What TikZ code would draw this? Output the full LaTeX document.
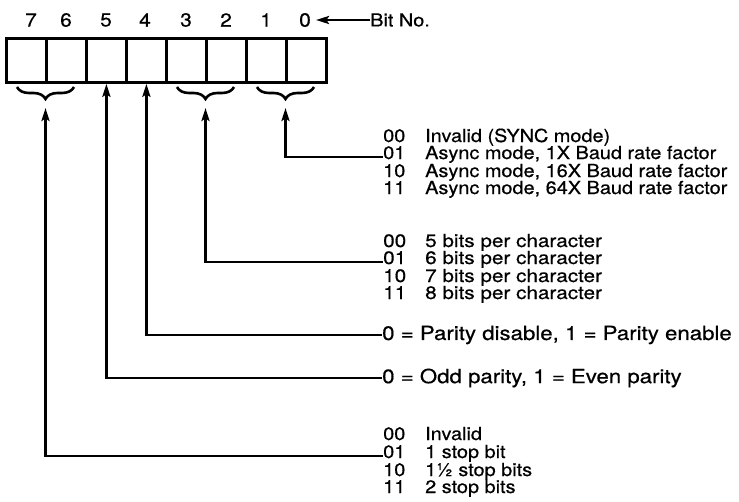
\documentclass[tikz,border=0pt]{standalone}
\usepackage{fontspec}
\setmainfont{TeX Gyre Heros}[FakeBold=0.5]
\usetikzlibrary{arrows.meta,decorations.pathreplacing,calc}
\tikzset{
  cell/.style={draw,line width=2.8pt,minimum width=40pt,minimum height=44pt,inner sep=0pt,anchor=north west},
  bitnum/.style={font=\fontsize{19pt}{19pt}\selectfont,inner sep=0pt},
  txt/.style={font=\fontsize{18pt}{18pt}\selectfont,inner sep=0pt,anchor=base west},
  ptxt/.style={txt,font=\fontsize{19.5pt}{19.5pt}\selectfont,anchor=west},
  arr/.style={line width=2.6pt,-{Stealth[length=13pt,width=8pt,inset=2.5pt]}},
  brc/.style={line width=2.6pt,decorate,decoration={brace,mirror,amplitude=12pt,aspect=0.5}}
}
\newcommand{\sx}[1]{\scalebox{1.105}[1]{#1}}
\newcommand{\sxb}[1]{\scalebox{1.15}[1]{#1}}
\newcommand{\sxp}[1]{\scalebox{1.14}[1]{#1}}
\begin{document}
\begin{tikzpicture}[x=1pt,y=-1pt]
\useasboundingbox (0,0) rectangle (739,501);
% register cells
\foreach \i/\xx [count=\k from 0] in {7/31,6/66,5/106,4/145,3/186,2/226,1/266,0/305}{
  \node[cell] (b\i) at ({5+40*\k},37) {};
  \node[bitnum] (n\i) at (\xx,20) {\scalebox{1.1}[1]{\i}};
}
\node[txt,anchor=west] (bitno) at (370,20) {\sx{Bit No.}};
\draw[arr] (bitno.west) -- ([xshift=5pt]n0.east);
% braces
\draw[brc] (17,87) -- coordinate[pos=0.5] (m76) (74,87);
\draw[brc] (177,87) -- coordinate[pos=0.5] (m32) (234,87);
\draw[brc] (257,87) -- coordinate[pos=0.5] (m10) (314,87);
\coordinate (t76) at ($(m76)+(0,21)$);
\coordinate (t32) at ($(m32)+(0,21)$);
\coordinate (t10) at ($(m10)+(0,21)$);
% text: bits 1-0
\node[txt] (a0) at (383,142) {\sx{00}};
\node[txt] (a1) at (383,159) {\sx{01}};
\node[txt] (a2) at (383,177) {\sx{10}};
\node[txt] (a3) at (383,194) {\sx{11}};
\node[txt] (ad0) at (425,142) {\sx{Invalid (SYNC mode)}};
\node[txt] (ad1) at (425,159) {\sx{Async mode, 1X Baud rate factor}};
\node[txt] (ad2) at (425,177) {\sx{Async mode, 16X Baud rate factor}};
\node[txt] (ad3) at (425,194) {\sx{Async mode, 64X Baud rate factor}};
% bits 3-2
\node[txt] (c0) at (383,247) {\sxb{00}};
\node[txt] (c1) at (383,264) {\sxb{01}};
\node[txt] (c2) at (383,282) {\sxb{10}};
\node[txt] (c3) at (383,299) {\sxb{11}};
\node[txt] (cd0) at (425,247) {\sxb{5 bits per character}};
\node[txt] (cd1) at (425,264) {\sxb{6 bits per character}};
\node[txt] (cd2) at (425,282) {\sxb{7 bits per character}};
\node[txt] (cd3) at (425,299) {\sxb{8 bits per character}};
% bit 4
\node[ptxt] (p4) at (382,335) {\sxp{0 = Parity disable, 1 = Parity enable}};
% bit 5
\node[ptxt] (p5) at (382,378) {\sxp{0 = Odd parity, 1 = Even parity}};
% bits 7-6
\node[txt] (s0) at (383,440) {\sx{00}};
\node[txt] (s1) at (383,458) {\sx{01}};
\node[txt] (s2) at (383,476) {\sx{10}};
\node[txt] (s3) at (383,493) {\sx{11}};
\node[txt] (sd0) at (425,440) {\sx{Invalid}};
\node[txt] (sd1) at (425,458) {\sx{1 stop bit}};
\node[txt] (sd2) at (425,476) {\sx{1½ stop bits}};
\node[txt] (sd3) at (425,493) {\sx{2 stop bits}};
% connectors
\draw[arr] ([yshift=2pt]a1.base west) -| (t10);
\draw[arr] ([yshift=2pt]c1.base west) -| (t32);
\draw[arr] (p4.west) -| (b4.south);
\draw[arr] (p5.west) -| (b5.south);
\draw[arr] ([yshift=2pt]s1.base west) -| (t76);
\end{tikzpicture}
\end{document}
